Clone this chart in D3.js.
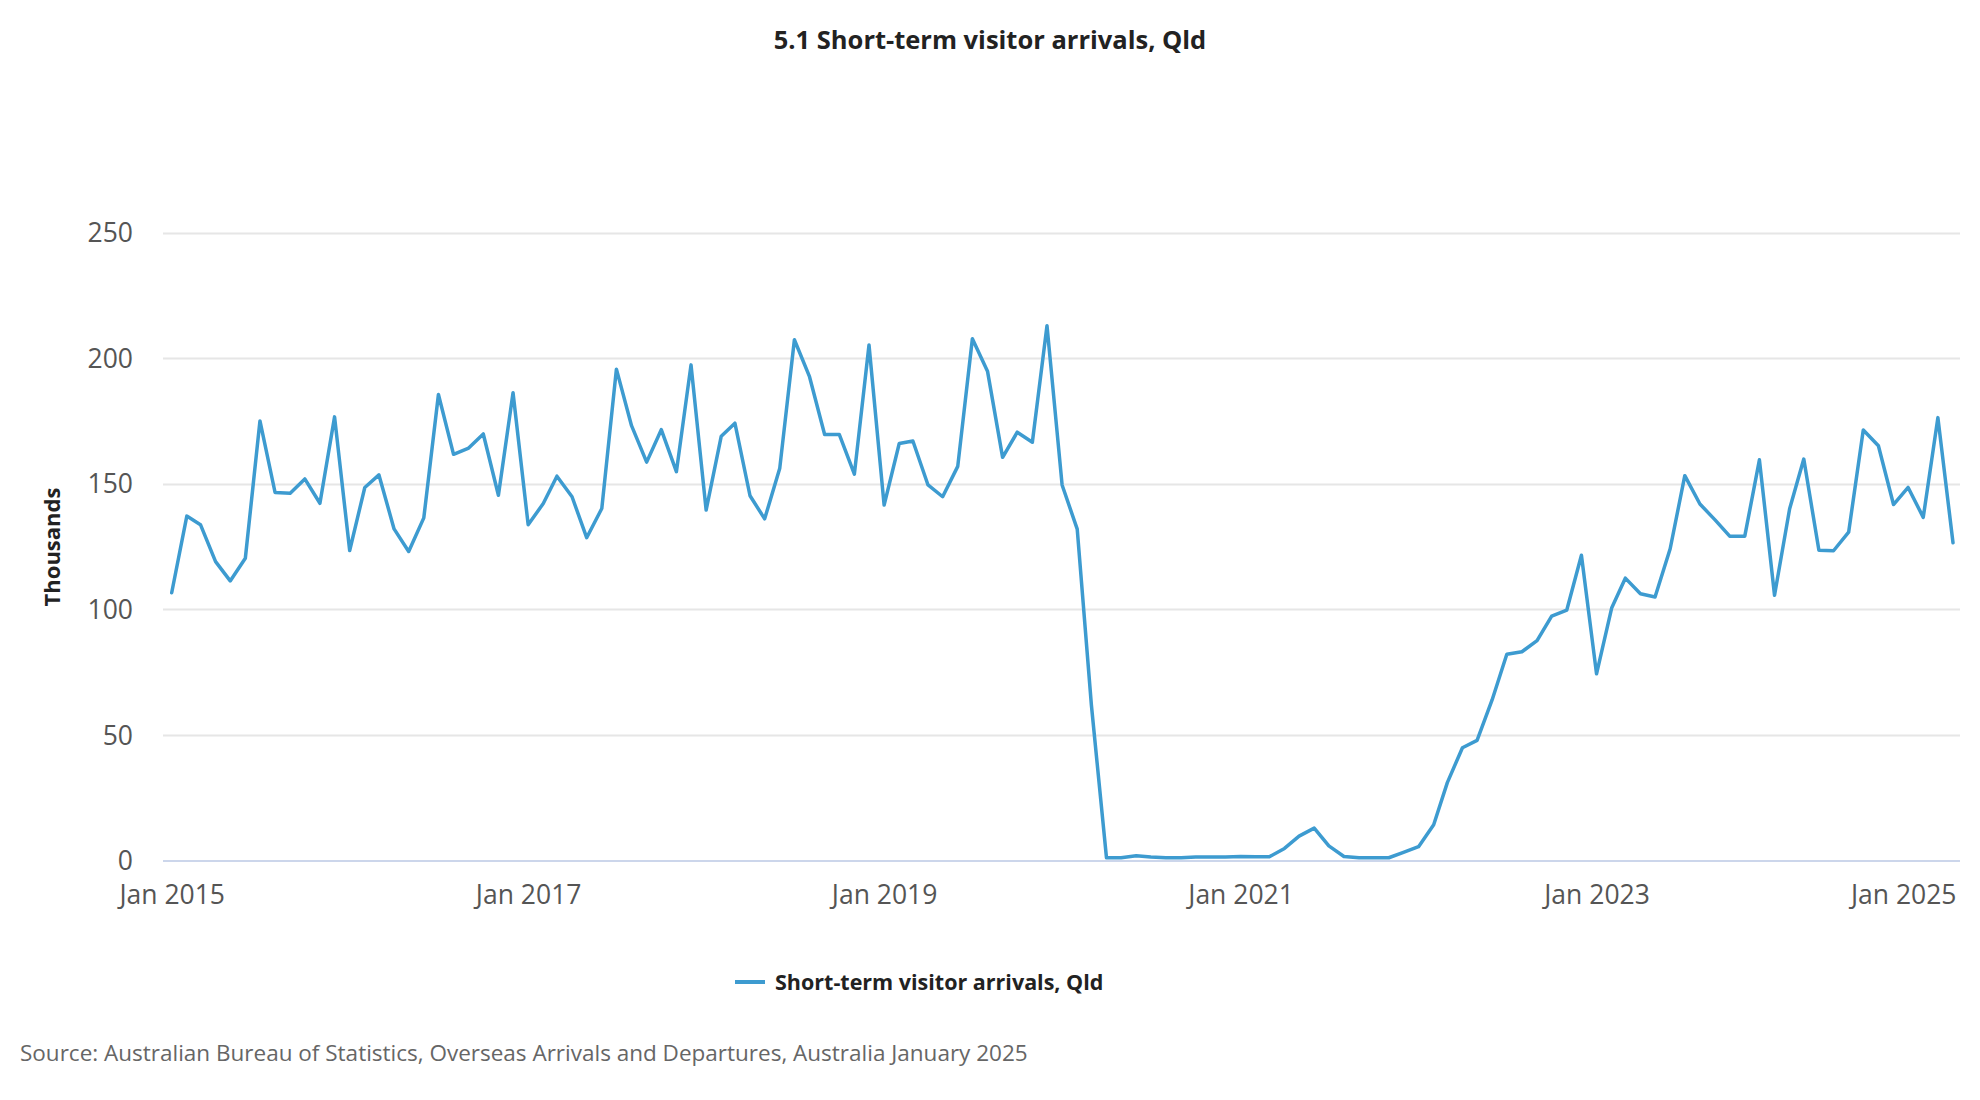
<!DOCTYPE html>
<html>
<head>
<meta charset="utf-8">
<script src="https://cdn.jsdelivr.net/npm/d3@7"></script>
<style>
  html, body { margin: 0; padding: 0; background: #ffffff; }
  svg { display: block; font-family: "Open Sans", "Noto Sans", sans-serif; }
</style>
</head>
<body>
<svg id="chart" width="1980" height="1100"></svg>
<script>
// ---- Data ----
const title = "5.1 Short-term visitor arrivals, Qld";
const seriesName = "Short-term visitor arrivals, Qld";
const yAxisTitle = "Thousands";
const sourceText = "Source: Australian Bureau of Statistics, Overseas Arrivals and Departures, Australia January 2025";
const startMonth = "2015-01";          // first observation
const yTicks = [0, 50, 100, 150, 200, 250];
const xTickYears = [2015, 2017, 2019, 2021, 2023, 2025];

// Monthly arrivals, thousands, Jan 2015 – Jan 2025
const values2015 = [106.6, 137.1, 133.7, 119.0, 111.3, 120.3, 175.0, 146.5, 146.2, 151.9, 142.2, 176.6];
const values2016 = [123.4, 148.5, 153.5, 132.0, 123.0, 136.4, 185.5, 161.7, 164.2, 169.8, 145.4, 186.2];
const values2017 = [133.7, 142.1, 153.0, 144.8, 128.5, 140.1, 195.6, 173.1, 158.6, 171.5, 154.8, 197.3];
const values2018 = [139.5, 168.9, 174.1, 145.2, 136.0, 156.2, 207.3, 192.6, 169.6, 169.6, 153.8, 205.2];
const values2019 = [141.5, 166.0, 167.0, 149.5, 144.8, 156.9, 207.7, 194.8, 160.5, 170.5, 166.5, 212.9];
const values2020 = [149.5, 131.9, 62.0, 1.1, 1.1, 1.9, 1.4, 1.1, 1.1, 1.4, 1.4, 1.4];
const values2021 = [1.6, 1.5, 1.5, 4.8, 9.7, 12.9, 5.8, 1.6, 1.1, 1.1, 1.1, 3.2];
const values2022 = [5.5, 14.2, 31.0, 44.9, 47.8, 64.0, 82.1, 83.1, 87.5, 97.3, 99.7, 121.5];
const values2023 = [74.3, 100.5, 112.4, 106.2, 104.9, 124.1, 153.2, 141.9, 135.6, 129.1, 129.1, 159.5];
const values2024 = [105.6, 140.0, 159.8, 123.5, 123.3, 130.7, 171.4, 165.1, 141.7, 148.5, 136.6, 176.3];
const values2025 = [126.5];

const values = [].concat(values2015, values2016, values2017, values2018, values2019,
  values2020, values2021, values2022, values2023, values2024, values2025);

const parseMonth = d3.timeParse("%Y-%m");
const start = parseMonth(startMonth);
const data = values.map((v, i) => ({ date: d3.timeMonth.offset(start, i), value: v }));

// ---- Layout ----
const svg = d3.select("#chart");
const plot = { left: 163, right: 1960, top: 232.5, bottom: 860.5 };
const lineStart = 171.7, lineEnd = 1953;

const x = d3.scaleTime()
  .domain([data[0].date, data[data.length - 1].date])
  .range([lineStart, lineEnd]);
const y = d3.scaleLinear().domain([0, 250]).range([plot.bottom, plot.top]);

// Title
svg.append("text")
  .attr("x", 990).attr("y", 49)
  .attr("text-anchor", "middle")
  .style("font-size", "25.5px").style("font-weight", "700").style("fill", "#222")
  .text(title);

// Gridlines
svg.append("g")
  .selectAll("line")
  .data(yTicks.filter(t => t !== 0))
  .join("line")
  .attr("x1", plot.left).attr("x2", plot.right)
  .attr("y1", d => Math.round(y(d)) + 0.5).attr("y2", d => Math.round(y(d)) + 0.5)
  .attr("stroke", "#e6e6e6").attr("stroke-width", 2);

// Y axis labels
const yAxis = d3.axisLeft(y).tickValues(yTicks).tickSize(0).tickPadding(0);
const yg = svg.append("g").attr("transform", `translate(133,0)`).call(yAxis);
yg.select(".domain").remove();
yg.selectAll("text")
  .attr("dy", "0.35em")
  .style("font-family", "'Open Sans', 'Noto Sans', sans-serif")
  .style("font-size", "26.5px").style("fill", "#555");

// Y axis title
svg.append("text")
  .attr("transform", "translate(60,547) rotate(-90)")
  .attr("text-anchor", "middle")
  .style("font-size", "22px").style("font-weight", "700").style("fill", "#222")
  .text(yAxisTitle);

// X axis line
svg.append("line")
  .attr("x1", plot.left).attr("x2", plot.right)
  .attr("y1", y(0) + 0.5).attr("y2", y(0) + 0.5)
  .attr("stroke", "#ccd6eb").attr("stroke-width", 2);

// X axis labels
const xTickDates = xTickYears.map(yr => new Date(yr, 0, 1));
const xAxis = d3.axisBottom(x).tickValues(xTickDates).tickFormat(d3.timeFormat("%b %Y")).tickSize(0).tickPadding(0);
const xg = svg.append("g").attr("transform", `translate(0,${plot.bottom + 26})`).call(xAxis);
xg.select(".domain").remove();
xg.selectAll("text")
  .attr("dy", "0.35em")
  .attr("y", 8)
  .style("font-family", "'Open Sans', 'Noto Sans', sans-serif")
  .style("font-size", "26.5px").style("fill", "#555");
// keep the last label inside the plot area (right-justified)
xg.selectAll(".tick").filter((d, i, n) => i === n.length - 1)
  .select("text").attr("text-anchor", "end").attr("x", 3);

// Line
const line = d3.line().x(d => x(d.date)).y(d => y(d.value));
svg.append("path")
  .datum(data)
  .attr("d", line)
  .attr("fill", "none")
  .attr("stroke", "#3d9bd0")
  .attr("stroke-width", 3.5)
  .attr("stroke-linejoin", "round")
  .attr("stroke-linecap", "round");

// Legend
const legend = svg.append("g").attr("transform", "translate(735,982)");
legend.append("line")
  .attr("x1", 0).attr("x2", 30).attr("y1", 0).attr("y2", 0)
  .attr("stroke", "#3d9bd0").attr("stroke-width", 4);
legend.append("text")
  .attr("x", 40).attr("y", 0).attr("dy", "0.35em")
  .style("font-size", "21.5px").style("font-weight", "700").style("fill", "#222")
  .text(seriesName);

// Source
svg.append("text")
  .attr("x", 20).attr("y", 1053).attr("dy", "0.35em")
  .style("font-size", "22.5px").style("fill", "#666")
  .text(sourceText);
</script>
</body>
</html>
